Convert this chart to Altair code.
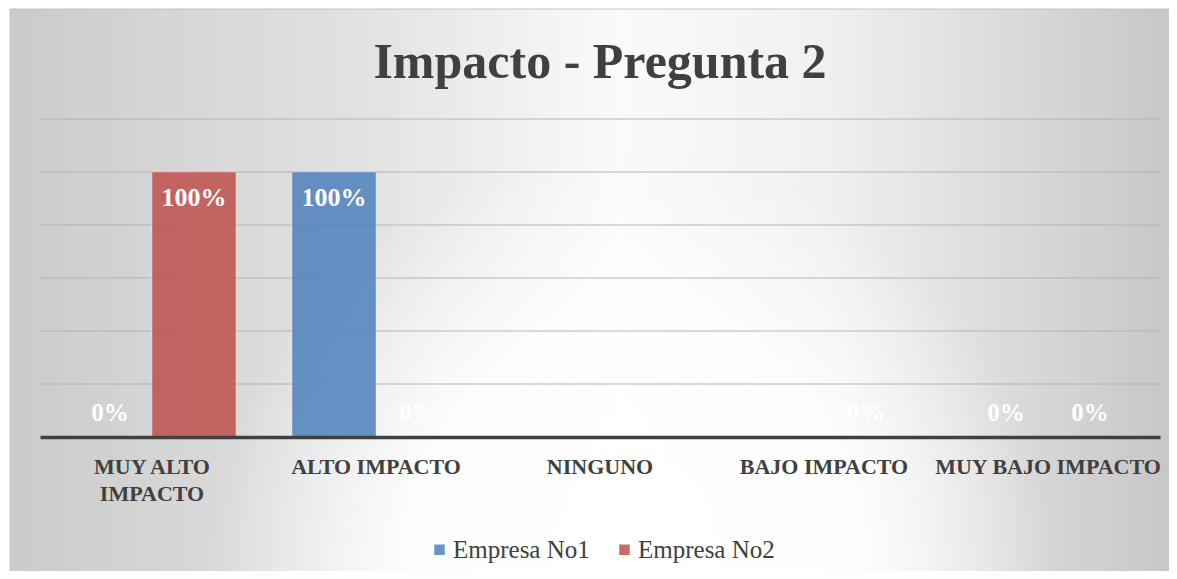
import altair as alt
import pandas as pd

# ---- data ----
categorias = ["MUY ALTO IMPACTO", "ALTO IMPACTO", "NINGUNO", "BAJO IMPACTO", "MUY BAJO IMPACTO"]
series = ["Empresa No1", "Empresa No2"]
empresa1 = [0, 100, 0, 0, 0]
empresa2 = [100, 0, 0, 0, 0]
colores = ["#4F81BD", "#C0504D"]
titulo = "Impacto - Pregunta 2"
grid_ticks = [0, 20, 40, 60, 80, 100, 120]

rows = []
for c, v1, v2 in zip(categorias, empresa1, empresa2):
    rows.append({"categoria": c, "serie": series[0], "valor": v1})
    rows.append({"categoria": c, "serie": series[1], "valor": v2})
df = pd.DataFrame(rows)
df_grid = pd.DataFrame({"valor": grid_ticks})

W, H = 1120, 318
FONT = "Liberation Serif"
TXT = "#404040"

y_scale = alt.Scale(domain=[0, 120], nice=False)
x_enc = alt.X("categoria:N", sort=categorias, title=None,
              scale=alt.Scale(paddingInner=0.25, paddingOuter=0.125),
              axis=alt.Axis(labelFont=FONT, labelFontSize=22, labelFontWeight="bold",
                            labelColor=TXT, labelAngle=0, labelPadding=19,
                            labelLineHeight=27, ticks=False, domainColor="#404040",
                            domainWidth=3.5, labelLimit=300, zindex=2,
                            labelExpr="datum.label == 'MUY ALTO IMPACTO' ? ['MUY ALTO', 'IMPACTO'] : datum.label"))
y_enc = alt.Y("valor:Q", title=None, scale=y_scale, axis=None)
xo = alt.XOffset("serie:N", sort=series, scale=alt.Scale(paddingInner=0))
color_enc = alt.Color("serie:N", sort=series,
                      scale=alt.Scale(domain=series, range=colores),
                      legend=alt.Legend(title=None, orient="none", legendX=387, legendY=418,
                                        direction="horizontal", symbolType="square",
                                        symbolSize=110, symbolOpacity=0.85, symbolStrokeWidth=0,
                                        labelFont=FONT, labelFontSize=25, labelColor=TXT,
                                        columnPadding=22, labelOffset=1, padding=0))

one = alt.Data(values=[{"k": 1}])

bg_linear = {
    "gradient": "linear", "x1": 0, "y1": 0, "x2": 1, "y2": 0,
    "stops": [
        {"offset": 0, "color": "#cbcbcb"},
        {"offset": 0.3, "color": "#e2e2e2"},
        {"offset": 0.52, "color": "#fafafa"},
        {"offset": 0.7, "color": "#f0f0f0"},
        {"offset": 1, "color": "#c6c6c6"},
    ],
}
bg_radial = {
    "gradient": "radial", "x1": 0.53, "y1": 0.74, "r1": 0, "x2": 0.53, "y2": 0.74, "r2": 0.36,
    "stops": [
        {"offset": 0, "color": "rgba(255,255,255,1)"},
        {"offset": 0.55, "color": "rgba(255,255,255,0.88)"},
        {"offset": 1, "color": "rgba(255,255,255,0)"},
    ],
}

fondo = alt.Chart(one).mark_rect(fill=bg_linear, stroke="#c4c4c4", strokeWidth=1).encode(
    x=alt.value(-30), x2=alt.value(1140), y=alt.value(-110), y2=alt.value(458))
brillo = alt.Chart(one).mark_rect(fill=bg_radial).encode(
    x=alt.value(-30), x2=alt.value(1140), y=alt.value(-110), y2=alt.value(458))
caja_leyenda = alt.Chart(one).mark_rect(fill="#ffffff", opacity=0.45).encode(
    x=alt.value(365), x2=alt.value(755), y=alt.value(408), y2=alt.value(451))
titulo_mark = alt.Chart(alt.Data(values=[{"t": titulo}])).mark_text(
    font=FONT, fontSize=50, fontWeight="bold", color=TXT, align="center", baseline="alphabetic"
).encode(text="t:N", x=alt.value(W / 2), y=alt.value(-41))

rejilla = alt.Chart(df_grid).mark_rule(color="#b4b4b4", strokeWidth=1).encode(
    y=alt.Y("valor:Q", scale=y_scale, axis=None))

base = alt.Chart(df)
barras = base.mark_bar(opacity=0.85, stroke="#ffffff", strokeOpacity=0.35, strokeWidth=1).encode(
    x=x_enc, y=y_enc, xOffset=xo, color=color_enc)
etiquetas_altas = base.transform_filter("datum.valor > 0").transform_calculate(
    etiqueta="datum.valor + '%'").mark_text(
    font=FONT, fontSize=26, fontWeight="bold", color="white", baseline="middle", dy=26
).encode(x=alt.X("categoria:N", sort=categorias), y="valor:Q", xOffset=xo, text="etiqueta:N")
etiquetas_cero = base.transform_filter("datum.valor == 0").transform_calculate(
    etiqueta="datum.valor + '%'").mark_text(
    font=FONT, fontSize=25, fontWeight="bold", color="white", baseline="middle", dy=-24
).encode(x=alt.X("categoria:N", sort=categorias), y="valor:Q", xOffset=xo, text="etiqueta:N")

chart = alt.layer(fondo, brillo, caja_leyenda, titulo_mark, rejilla, barras,
                  etiquetas_altas, etiquetas_cero).properties(
    width=W, height=H,
    autosize=alt.AutoSizeParams(type="none"),
    padding={"left": 32, "top": 111, "right": 9, "bottom": 134},
    background="white",
).configure_view(stroke=None)

chart.save("out.html", embed_options={"renderer": "svg", "actions": False})
